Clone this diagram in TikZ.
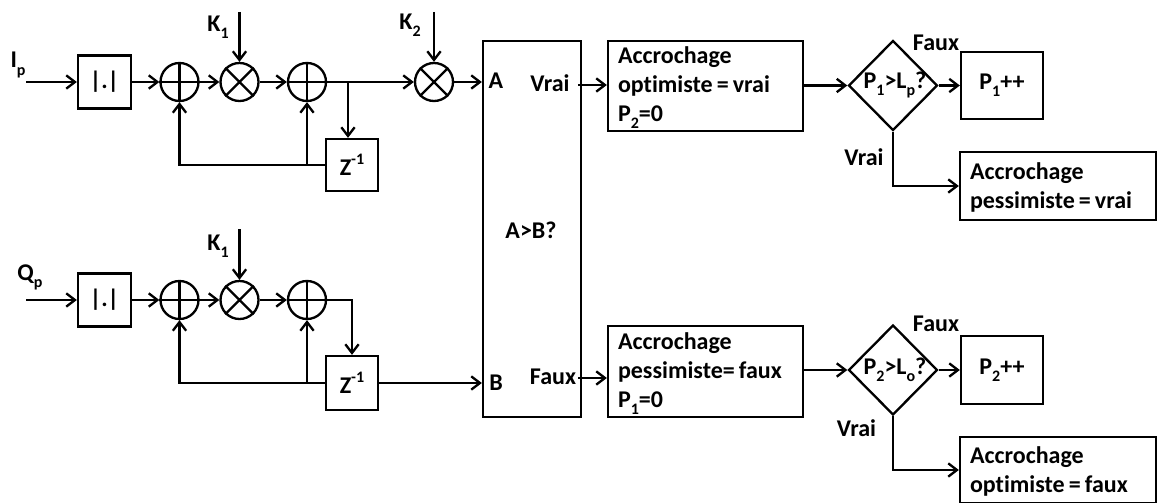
\documentclass[tikz,border=0pt]{standalone}
\usepackage{fontspec}
\setmainfont[Ligatures=NoCommon]{Carlito}
\usetikzlibrary{arrows.meta,shapes.geometric}
\newcommand\lowidx[1]{\raisebox{-0.3em}{\fontsize{12}{12}\selectfont #1}}
\newcommand\upidx[1]{\raisebox{0.45em}{\fontsize{12}{12}\selectfont #1}}
\newcommand\topline{\spaceskip=0.17em\relax\rule{0pt}{15.5pt}}
\tikzset{
  wire/.style={line width=1.75pt},
  arr/.style={wire,-{Straight Barb[length=6.5pt,width=10pt,line width=1.75pt]}},
  wh/.style 2 args={minimum width=#1*0.75pt,minimum height=#2*0.75pt},
  lbl/.style={font=\fontsize{18}{21.75}\selectfont\bfseries,inner sep=0pt},
  blockbox/.style={draw,line width=1.75pt,inner sep=0pt,align=center,font=\fontsize{18}{21.75}\selectfont\bfseries},
  textbox/.style 2 args={blockbox,align=left,inner xsep=7.5pt,text width=#1*0.75pt-15pt,minimum height=#2*0.75pt},
  opnode/.style={draw,circle,line width=1.75pt,inner sep=0pt,minimum size=28.5pt},
  decide/.style={draw,diamond,line width=1.75pt,inner sep=0pt,shape aspect=1,minimum width=66.75pt,minimum height=67.5pt},
}
\newcommand\plusop[1]{\draw[wire] (#1.north)--(#1.south) (#1.west)--(#1.east);}
\newcommand\timesop[1]{\draw[wire] (#1.north west)--(#1.south east) (#1.north east)--(#1.south west);}
\begin{document}
\begin{tikzpicture}[x=0.75pt,y=-0.75pt]
\useasboundingbox (0,0) rectangle (1157,503);
% top chain
\coordinate (ipin) at (26,82);
\node[blockbox,wh={53}{53}] (abs1) at (104.5,82) {|.|};
\node[opnode] (s1) at (179.5,82) {};
\node[opnode] (m1) at (239.5,82) {};
\node[opnode] (s2) at (307,82) {};
\node[opnode] (m2) at (434,82) {};
\node[blockbox,wh={52}{52}] (z1) at (352,165) {Z\upidx{-1}};
\coordinate (k1a) at (239.5,12);
\coordinate (k2a) at (434,12);
\coordinate (br1) at (348,82);
\coordinate (fb1) at (307,165);
\plusop{s1}\timesop{m1}\plusop{s2}\timesop{m2}
% bottom chain
\coordinate (qpin) at (26,300);
\node[blockbox,wh={53}{53}] (abs2) at (104.5,300) {|.|};
\node[opnode] (s3) at (179.5,300) {};
\node[opnode] (m3) at (239.5,300) {};
\node[opnode] (s4) at (307,300) {};
\node[blockbox,wh={52}{54}] (z2) at (352,383) {Z\upidx{-1}};
\coordinate (k1b) at (239.5,229);
\coordinate (fb2) at (307,383);
\plusop{s3}\timesop{m3}\plusop{s4}
% comparator
\node[blockbox,wh={98}{376}] (cmp) at (532,229) {};
\coordinate (cmpv) at (578,85);
\coordinate (cmpf) at (578,378);
% flow boxes
\node[textbox={195}{90}] (ao) at (705.5,86) {\topline Accrochage\\optimiste = vrai\\P\lowidx{2}=0};
\node[textbox={195}{91}] (ap) at (705.5,371.5) {\topline Accrochage\\pessimiste= faux\\P\lowidx{1}=0};
\node[decide] (d1) at (893,85.5) {};
\node[decide] (d2) at (893,370) {};
\node[lbl] (d1t) at (895,85) {P\lowidx{1}>L\lowidx{p}?};
\node[lbl] (d2t) at (895,370) {P\lowidx{2}>L\lowidx{o}?};
\node[blockbox,wh={82}{67}] (p1) at (1002,85.5) {P\lowidx{1}++};
\node[blockbox,wh={82}{68}] (p2) at (1002,370) {P\lowidx{2}++};
\node[textbox={196}{68}] (r1) at (1058,186) {\topline Accrochage\\pessimiste = vrai};
\node[textbox={196}{66}] (r2) at (1058,470) {\topline Accrochage\\optimiste = faux};
% connectors
\draw[arr] (ipin)--(abs1);
\draw[arr] (abs1)--(s1);
\draw[arr] (s1)--(m1);
\draw[arr] (m1)--(s2);
\draw[arr] (s2)--(m2);
\draw[arr] (k1a)--(m1);
\draw[arr] (k2a)--(m2);
\draw[arr] (br1)--(br1|-z1.north);
\draw[arr] (z1.west)-|(s1.south);
\draw[arr] (fb1)--(s2);
\draw[arr] (m2)--(cmp.west|-m2);
\draw[arr] (qpin)--(abs2);
\draw[arr] (abs2)--(s3);
\draw[arr] (s3)--(m3);
\draw[arr] (m3)--(s4);
\draw[arr] (k1b)--(m3);
\draw[arr] (s4)-|(z2.north);
\draw[arr] (z2.west)-|(s3.south);
\draw[arr] (fb2)--(s4);
\draw[arr] (z2)--(cmp.west|-z2);
\draw[arr] (cmpv)--(ao.west|-cmpv);
\draw[arr] (cmpf)--(ap.west|-cmpf);
\draw[arr] (ao.east|-d1)--(d1);
\draw[arr] (ap.east|-d2)--(d2);
\draw[arr] (d1)--(p1);
\draw[arr] (d2)--(p2);
\draw[arr] (d1.south)|-(r1.west);
\draw[arr] (d2.south)|-(r2.west);
% labels
\node[lbl] (lip) at (18,65) {I\lowidx{p}};
\node[lbl] (lqp) at (30,277) {Q\lowidx{p}};
\node[lbl] (lk1) at (218,27) {K\lowidx{1}};
\node[lbl] (lk2) at (410,25) {K\lowidx{2}};
\node[lbl] (lk3) at (218,246) {K\lowidx{1}};
\node[lbl] (la) at (496,81) {A};
\node[lbl] (lb) at (496,383) {B};
\node[lbl] (lc) at (531,230) {A>B?};
\node[lbl] (lv) at (550,83) {Vrai};
\node[lbl] (lf) at (553,377) {Faux};
\node[lbl] (lf1) at (936,43) {Faux};
\node[lbl] (lv1) at (864,157) {Vrai};
\node[lbl] (lf2) at (936,324) {Faux};
\node[lbl] (lv2) at (856.5,428) {Vrai};
\end{tikzpicture}
\end{document}
